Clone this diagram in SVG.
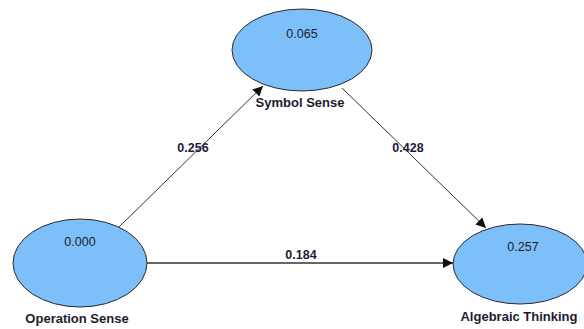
<svg xmlns="http://www.w3.org/2000/svg" width="584" height="329" viewBox="0 0 584 329">
  <style>
    .node ellipse { fill: #7dbff9; stroke: #2a2a2a; stroke-width: 1; }
    .val { font-family: "Liberation Sans", Arial, sans-serif; font-size: 12.5px; fill: #1c1c2e; text-anchor: middle; }
    .name { font-family: "Liberation Sans", Arial, sans-serif; font-size: 13px; font-weight: bold; fill: #1c1c2e; text-anchor: middle; }
    .edge { stroke: #333; fill: none; }
    .coef { font-family: "Liberation Sans", Arial, sans-serif; font-size: 12.5px; font-weight: bold; fill: #1c1c3a; text-anchor: middle; }
  </style>
  <defs>
    <marker id="arrow" viewBox="0 0 10 10" refX="10" refY="5" markerWidth="10" markerHeight="10" markerUnits="userSpaceOnUse" orient="auto">
      <path d="M0,0 L10,5 L0,10 Z" fill="#111"/>
    </marker>
  </defs>
  <rect width="584" height="329" fill="#ffffff"/>

  <g id="connectors">
    <line class="edge" x1="118" y1="228" x2="263" y2="86" stroke-width="1" marker-end="url(#arrow)"/>
    <line class="edge" x1="342" y1="88" x2="486" y2="228" stroke-width="1" marker-end="url(#arrow)"/>
    <line class="edge" x1="147" y1="263" x2="453" y2="263" stroke-width="1.6" marker-end="url(#arrow)"/>
    <text class="coef" x="193" y="152">0.256</text>
    <text class="coef" x="408" y="152">0.428</text>
    <text class="coef" x="301" y="259">0.184</text>
  </g>

  <g id="symbol-sense" class="node">
    <ellipse cx="302" cy="50" rx="70" ry="41"/>
    <text class="val" x="302" y="38">0.065</text>
    <text class="name" x="300" y="107">Symbol Sense</text>
  </g>

  <g id="operation-sense" class="node">
    <ellipse cx="80" cy="263" rx="67" ry="44"/>
    <text class="val" x="80" y="246">0.000</text>
    <text class="name" x="77" y="323">Operation Sense</text>
  </g>

  <g id="algebraic-thinking" class="node">
    <ellipse cx="520" cy="264" rx="67" ry="40"/>
    <text class="val" x="523" y="251">0.257</text>
    <text class="name" x="519" y="321">Algebraic Thinking</text>
  </g>
</svg>
